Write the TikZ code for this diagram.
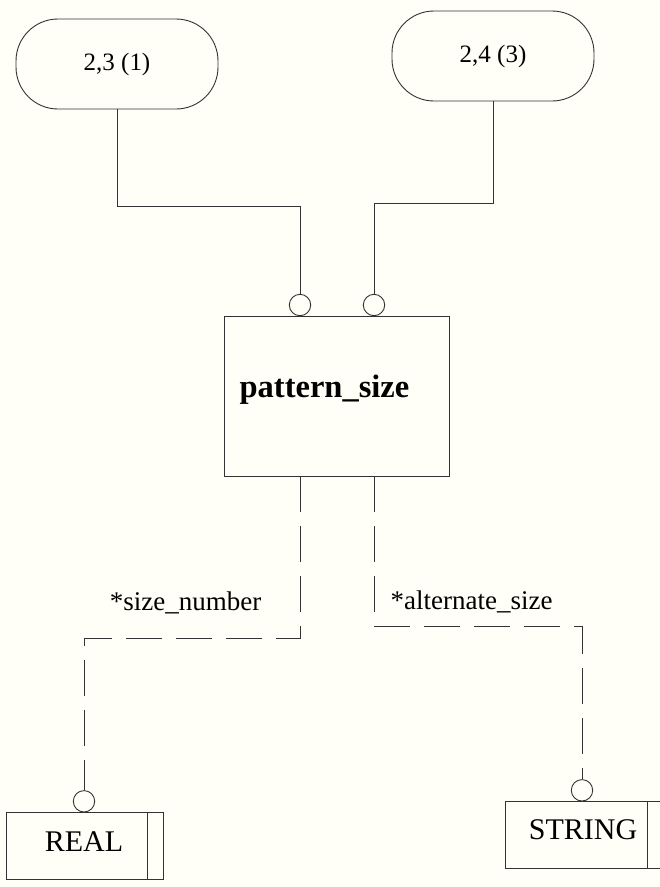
\documentclass[tikz,border=0pt]{standalone}
\usepackage{fontspec}
\setmainfont{Liberation Serif}
\begin{document}
\begin{tikzpicture}[x=1pt,y=-1pt,
  ink/.style={draw=black!80, line width=0.9pt},
  oval/.style={ink, rounded corners=42pt, minimum width=202pt, minimum height=90pt,
    inner sep=0pt, font=\fontsize{25}{30}\selectfont},
  entity/.style={ink, minimum width=225pt, minimum height=160pt, inner sep=0pt},
  typebox/.style={ink, minimum height=67pt, inner sep=0pt},
  ring/.style={ink, circle, minimum size=21.4pt, inner sep=0pt},
  typetext/.style={font=\fontsize{30}{36}\selectfont, inner sep=0pt},
  roletext/.style={font=\fontsize{27}{32}\selectfont, inner sep=0pt},
  rel/.style={ink},
  optrel/.style={ink, dash pattern=on 36pt off 14pt}
]
\fill[white!97!yellow] (0,0) rectangle (660,887);
\useasboundingbox (0,0) rectangle (660,887);
\clip (0,0) rectangle (660,887);

% source references
\node[oval] (src1) at (117,64) {2,3 (1)};
\node[oval] (src2) at (493,56) {2,4 (3)};

% entity
\node[entity] (ps) at (336.5,396) {};
\node[font=\bfseries\fontsize{32.5}{38}\selectfont, inner sep=0pt] (pslabel) at (324.5,390) {pattern\_size};

\node[ring] (c1) at (300,305) {};
\node[ring] (c2) at (374,305) {};

% simple types
\node[typebox, minimum width=157pt] (real) at (84.5,845.5) {};
\draw[ink] (147,812) -- (147,879);
\node[typetext] (realtext) at (84,842) {REAL};
\node[ring] (c3) at (84,801.3) {};

\node[typebox, minimum width=175pt] (string) at (592.5,835) {};
\draw[ink] (647,801.5) -- (647,868.5);
\node[typetext] (stringtext) at (583,830) {STRING};
\node[ring] (c4) at (582,790.3) {};

% relations to the references
\draw[rel] (src1.south) -- (117,206) -- (300,206) -- (c1.north);
\draw[rel] (src2.south) -- (493,203) -- (374,203) -- (c2.north);

% optional attributes
\coordinate (a1) at (300,476);
\coordinate (a2) at (374,476);
\draw[optrel] (a1) -- (300,638) -- (84,638) -- (c3.north);
\draw[optrel] (a2) -- (374,626) -- (582,626) -- (c4.north);

\node[roletext] (r1) at (185.5,603) {*size\_number};
\node[roletext] (r2) at (471.5,602) {*alternate\_size};
\end{tikzpicture}
\end{document}
